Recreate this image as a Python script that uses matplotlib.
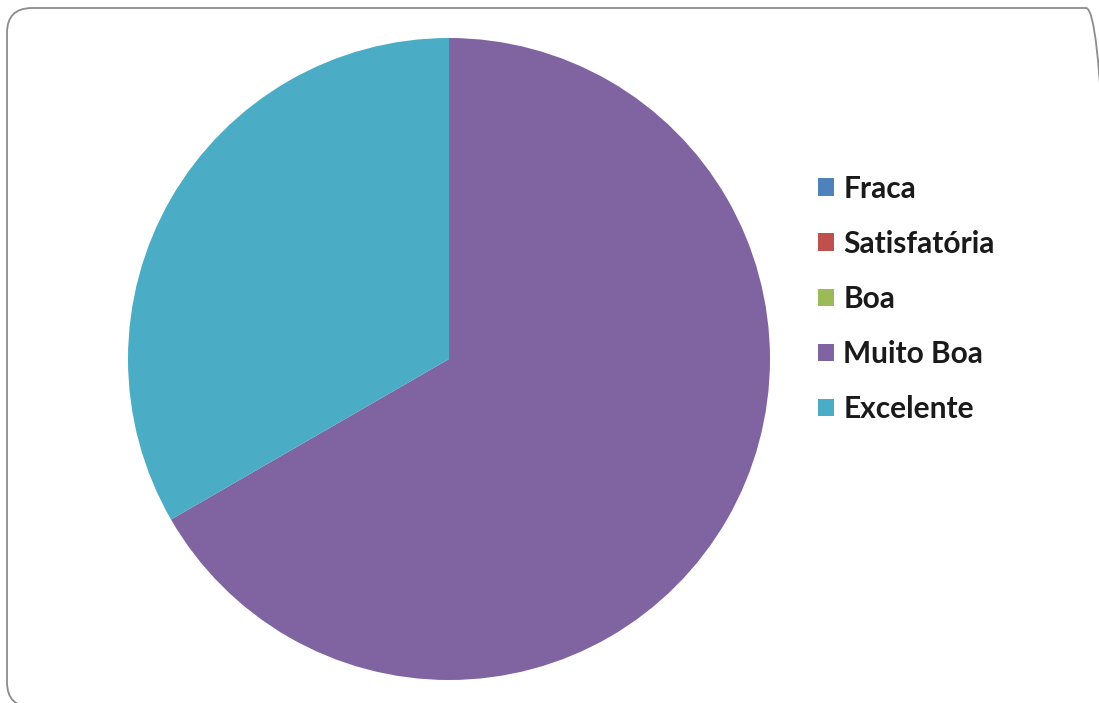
import matplotlib.pyplot as plt
from matplotlib.patches import FancyBboxPatch
from matplotlib.transforms import IdentityTransform

# data
labels = ['Fraca', 'Satisfatória', 'Boa', 'Muito Boa', 'Excelente']
values = [0, 0, 0, 2, 1]
colors = ['#4F81BD', '#C0504D', '#9BBB59', '#8064A2', '#4BACC6']

W, H = 1099, 703
fig = plt.figure(figsize=(W / 100, H / 100), dpi=100)

# rounded frame around the chart, in pixels (cut off on right and bottom)
frame = FancyBboxPatch((7, -4), 1104, 699,
                       boxstyle='round,pad=0,rounding_size=25',
                       transform=IdentityTransform(), facecolor='none',
                       edgecolor='#8c8c8c', linewidth=1.3, zorder=-1)
fig.patches.append(frame)

# pie
cx, cy, r = 449, H - 359, 321
ax = fig.add_axes([(cx - r) / W, (cy - r) / H, 2 * r / W, 2 * r / H])
wedges, _ = ax.pie(values, colors=colors, startangle=90, counterclock=False,
                   wedgeprops=dict(linewidth=0))
ax.set_xlim(-1, 1)
ax.set_ylim(-1, 1)
ax.axis('off')

# legend
leg = fig.legend(wedges, labels, loc='upper left', bbox_to_anchor=(818 / W, 1 - 174.5 / H),
                 frameon=False, handlelength=0.52, handleheight=0.52, handletextpad=0.33,
                 labelspacing=0.91, borderpad=0, borderaxespad=0,
                 prop=dict(family='Lato', weight='bold', size=21.5))
for t in leg.get_texts():
    t.set_color('#1a1a1a')

fig.savefig('out.png', dpi=100)
